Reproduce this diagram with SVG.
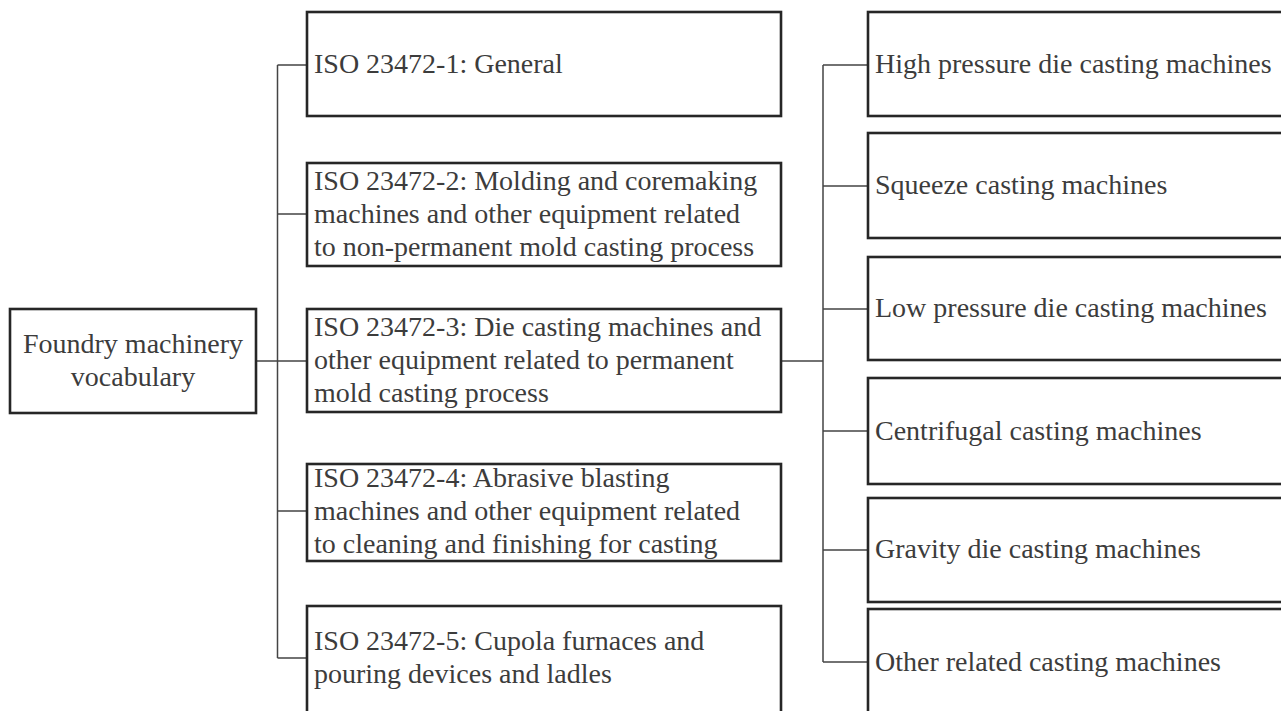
<svg xmlns="http://www.w3.org/2000/svg" width="1281" height="711" viewBox="0 0 1281 711">
<style>
.box{fill:#fff;stroke:#262626;stroke-width:2.6}
.t{font-family:"Liberation Serif","Times New Roman",serif;font-size:28px;fill:#3c3c3c}
.c{fill:none;stroke:#444;stroke-width:1.5}
</style>
<rect width="1281" height="711" fill="#fff"/>
<g id="connectors">
<path class="c" d="M256 361H307M277.5 65V658M277.5 65H307M277.5 214H307M277.5 511H307M277.5 658H307"/>
<path class="c" d="M781 361H823M823 65V662M823 65H868M823 186H868M823 309H868M823 431H868M823 550H868M823 662H868"/>
</g>
<g id="root">
<rect class="box" x="10" y="309" width="246" height="104"/>
<text class="t" x="133" y="353" text-anchor="middle">Foundry machinery</text>
<text class="t" x="133" y="386" text-anchor="middle">vocabulary</text>
</g>
<g id="iso1">
<rect class="box" x="307" y="12" width="474" height="104"/>
<text class="t" x="314" y="73">ISO 23472-1: General</text>
</g>
<g id="iso2">
<rect class="box" x="307" y="163" width="474" height="103"/>
<text class="t" x="314" y="190">ISO 23472-2: Molding and coremaking</text>
<text class="t" x="314" y="223">machines and other equipment related</text>
<text class="t" x="314" y="256">to non-permanent mold casting process</text>
</g>
<g id="iso3">
<rect class="box" x="307" y="309" width="474" height="103"/>
<text class="t" x="314" y="336">ISO 23472-3: Die casting machines and</text>
<text class="t" x="314" y="369">other equipment related to permanent</text>
<text class="t" x="314" y="402">mold casting process</text>
</g>
<g id="iso4">
<rect class="box" x="307" y="464" width="474" height="97"/>
<text class="t" x="314" y="487">ISO 23472-4: Abrasive blasting</text>
<text class="t" x="314" y="520">machines and other equipment related</text>
<text class="t" x="314" y="553">to cleaning and finishing for casting</text>
</g>
<g id="iso5">
<rect class="box" x="307" y="606" width="474" height="110"/>
<text class="t" x="314" y="650">ISO 23472-5: Cupola furnaces and</text>
<text class="t" x="314" y="683">pouring devices and ladles</text>
</g>
<g id="hpdc">
<rect class="box" x="868" y="12" width="430" height="104"/>
<text class="t" x="875" y="73">High pressure die casting machines</text>
</g>
<g id="squeeze">
<rect class="box" x="868" y="133" width="430" height="105"/>
<text class="t" x="875" y="194">Squeeze casting machines</text>
</g>
<g id="lpdc">
<rect class="box" x="868" y="257" width="430" height="103"/>
<text class="t" x="875" y="317">Low pressure die casting machines</text>
</g>
<g id="centrifugal">
<rect class="box" x="868" y="378" width="430" height="106"/>
<text class="t" x="875" y="440">Centrifugal casting machines</text>
</g>
<g id="gravity">
<rect class="box" x="868" y="498" width="430" height="104"/>
<text class="t" x="875" y="558">Gravity die casting machines</text>
</g>
<g id="other">
<rect class="box" x="868" y="609" width="430" height="110"/>
<text class="t" x="875" y="671">Other related casting machines</text>
</g>
</svg>
